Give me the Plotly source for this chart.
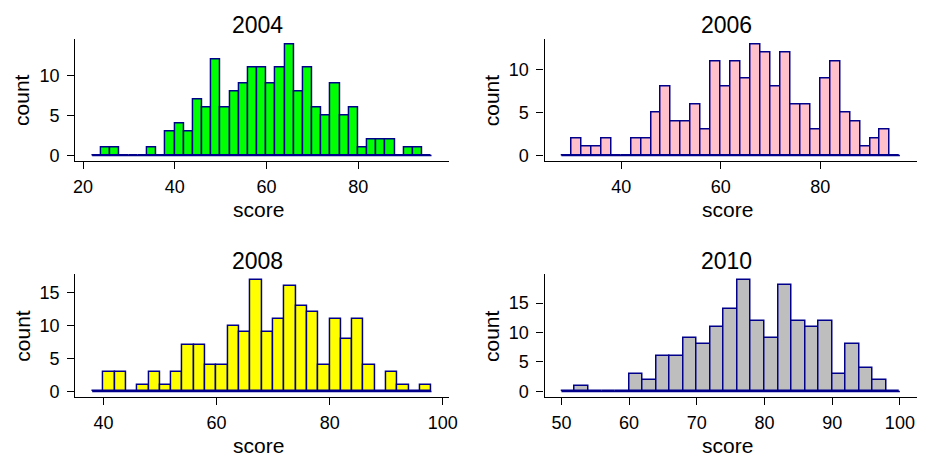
import plotly.graph_objects as go

# ---- data (histogram counts, binwidth 2) ----
years = ["2004", "2006", "2008", "2010"]
bin_width = 2
start_2004 = 22
counts_2004 = [0, 1, 1, 0, 0, 0, 1, 0, 3, 4, 3, 7, 6, 12, 6, 8, 9, 11, 11, 9, 11, 14,
               8, 11, 6, 5, 9, 5, 6, 1, 2, 2, 2, 0, 1, 1, 0]
start_2006 = 28
counts_2006 = [0, 2, 1, 1, 2, 0, 0, 2, 2, 5, 8, 4, 4, 6, 3, 11, 8, 11, 9, 13, 12, 8,
               12, 6, 6, 3, 9, 11, 5, 4, 1, 2, 3, 0]
start_2008 = 38
counts_2008 = [0, 3, 3, 0, 1, 3, 1, 3, 7, 7, 4, 4, 10, 9, 17, 9, 11, 16, 13, 12, 4,
               11, 8, 11, 4, 0, 3, 1, 0, 1]
start_2010 = 50
counts_2010 = [0, 1, 0, 0, 0, 3, 2, 6, 6, 9, 8, 11, 14, 19, 12, 9, 18, 12, 11, 12, 3,
               8, 4, 2, 0]
fill_colors = ["#00FF00", "#FFC0CB", "#FFFF00", "#BEBEBE"]
x_ticks = [[20, 40, 60, 80], [40, 60, 80], [40, 60, 80, 100], [50, 60, 70, 80, 90, 100]]
y_ticks = [[0, 5, 10], [0, 5, 10], [0, 5, 10, 15], [0, 5, 10, 15]]
x_label = "score"
y_label = "count"

starts = [start_2004, start_2006, start_2008, start_2010]
counts = [counts_2004, counts_2006, counts_2008, counts_2010]

W, H = 930, 456
outline = "#00008B"
font_family = "Liberation Sans, Arial, sans-serif"

# panel pixel boxes (left, right, top, bottom), measured from the top-left corner
col_x = [(75.2, 448.5), (544.5, 916.8)]
row_y = [(38.5, 161.0), (274.0, 397.0)]

fig = go.Figure()
layout = dict(
    width=W, height=H, autosize=False,
    margin=dict(l=0, r=0, t=0, b=0, pad=0, autoexpand=False),
    paper_bgcolor="white", plot_bgcolor="white", showlegend=False,
    bargap=0, font=dict(family=font_family, color="black"),
)
annotations = []

for i, yr in enumerate(years):
    r, c = divmod(i, 2)
    sfx = "" if i == 0 else str(i + 1)
    xa, ya = "x" + sfx, "y" + sfx
    s, cnt = starts[i], counts[i]
    centers = [s + bin_width * (k + 0.5) for k in range(len(cnt))]
    lo, hi = s, s + bin_width * len(cnt)
    ymax = max(cnt)
    fig.add_trace(go.Bar(
        x=centers, y=cnt, width=bin_width, xaxis=xa, yaxis=ya,
        marker=dict(color=fill_colors[i], line=dict(color=outline, width=1.5)),
        hoverinfo="x+y",
    ))
    fig.add_trace(go.Scatter(
        x=[lo, hi], y=[0, 0], xaxis=xa, yaxis=ya, mode="lines",
        line=dict(color=outline, width=1.5), hoverinfo="skip",
    ))
    xl, xr = col_x[c]
    yt, yb = row_y[r]
    pad_x = 0.05 * (hi - lo)
    pad_y = 0.05 * ymax
    layout["xaxis" + sfx] = dict(
        domain=[xl / W, xr / W], anchor=ya, range=[lo - pad_x, hi + pad_x],
        automargin=False, showline=True, linecolor="black", linewidth=1.3,
        ticks="outside", ticklen=7, tickwidth=1.3, tickcolor="black",
        tickvals=x_ticks[i], ticklabelstandoff=2,
        showgrid=False, zeroline=False, tickfont=dict(size=18, color="black"),
    )
    layout["yaxis" + sfx] = dict(
        domain=[1 - yb / H, 1 - yt / H], anchor=xa, range=[-pad_y, ymax + pad_y],
        automargin=False, showline=True, linecolor="black", linewidth=1.3,
        ticks="outside", ticklen=7, tickwidth=1.3, tickcolor="black",
        tickvals=y_ticks[i], ticklabelstandoff=4,
        showgrid=False, zeroline=False, tickfont=dict(size=18, color="black"),
    )
    cx_title = (xl + xr) / 2 - 4.5
    annotations.append(dict(
        text=yr, x=cx_title / W, y=1 - (yt + 1.5) / H, xref="paper", yref="paper",
        showarrow=False, xanchor="center", yanchor="bottom", font=dict(size=23),
    ))
    annotations.append(dict(
        text=x_label, x=((xl + xr) / 2 - 3) / W, y=1 - (yb + 35) / H, xref="paper",
        yref="paper", showarrow=False, xanchor="center", yanchor="top",
        font=dict(size=21),
    ))
    annotations.append(dict(
        text=y_label, x=(xl - 53) / W, y=1 - ((yt + yb) / 2) / H, xref="paper",
        yref="paper", showarrow=False, xanchor="center", yanchor="middle",
        textangle=-90, font=dict(size=21),
    ))

layout["annotations"] = annotations
fig.update_layout(**layout)
fig.write_html(
    "out.html",
    config={"responsive": False, "displayModeBar": False},
    post_script="document.body.style.margin='0';document.body.style.overflow='hidden';",
)
